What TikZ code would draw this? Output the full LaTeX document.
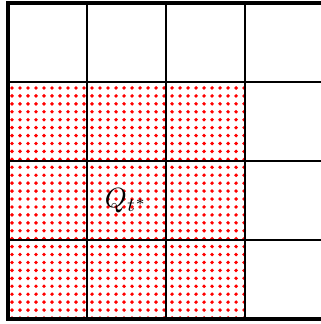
\documentclass[tikz,border=0pt]{standalone}
\begin{document}
\begin{tikzpicture}[
  gridline/.style={black, line width=0.4pt},
  borderline/.style={black, line width=1.1pt},
  reddot/.style={red}
]
\useasboundingbox (-0.1013,-0.0633) rectangle (3.962,4.038);
% dotted region
\foreach \i in {0,...,29}{
  \foreach \j in {0,...,29}{
    \fill[reddot] ({0.0506+0.1013*\i},{0.0127+0.1004*\j}) circle (0.7pt);
  }
}
% grid
\foreach \k in {1,2,3}{
  \draw[gridline] (\k,0) -- (\k,4);
  \draw[gridline] (0,\k) -- (4,\k);
}
\draw[borderline] (0,0) rectangle (4,4);
\node (q) at (1.5,1.5) {$Q_{t^*}$};
\end{tikzpicture}
\end{document}
